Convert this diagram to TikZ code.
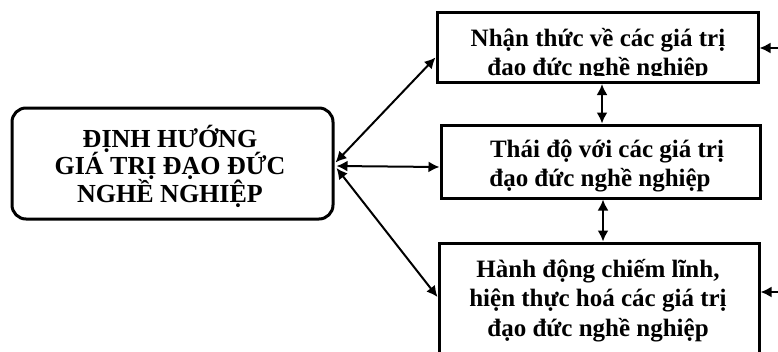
\documentclass[tikz,border=0pt]{standalone}
\usepackage{fontspec}
\setmainfont{Liberation Serif}
\usetikzlibrary{arrows.meta,calc}
\newcommand\tlines[1]{\vtop{\lineskiplimit=-100pt\halign{\hfil##\hfil\cr#1\crcr}}}
\begin{document}
\begin{tikzpicture}[x=1pt,y=-1pt,
  boxs/.style={draw,line width=3pt,inner sep=0pt,rectangle},
  lbl/.style={anchor=base,inner sep=0pt,font=\bfseries\fontsize{25}{29.5}\selectfont},
  lblL/.style={anchor=base,inner sep=0pt,font=\bfseries\fontsize{26}{27.5}\selectfont},
  conn/.style={line width=2pt,{Latex[length=11pt,width=11pt]}-{Latex[length=11pt,width=11pt]}},
  oneway/.style={line width=2pt,-{Latex[length=11pt,width=11pt]}}]
\useasboundingbox (0,0) rectangle (778,351);
\clip (0,0) rectangle (778,351);
\node[boxs,rounded corners=14pt,minimum width=321pt,minimum height=111pt] (L) at (172.5,163.5) {};
\node[boxs,minimum width=321pt,minimum height=70pt] (A) at (597.5,47.5) {};
\node[boxs,minimum width=319pt,minimum height=73pt] (B) at (600.5,161.5) {};
\node[boxs,minimum width=320pt,minimum height=120pt] (C) at (599,303) {};
\node[lblL] (Lt) at (170,147) {\tlines{ĐỊNH HƯỚNG\cr GIÁ TRỊ ĐẠO ĐỨC\cr NGHỀ NGHIỆP}};
\begin{scope}
\clip (437,12) rectangle (758,75.5);
\node[lbl] (At) at (598,46) {\tlines{Nhận thức về các giá trị\cr đạo đức nghề nghiệp}};
\end{scope}
\node[lbl] (Bt) at (600,157) {\tlines{\hspace*{14pt}Thái độ với các giá trị\cr đạo đức nghề nghiệp}};
\node[lbl] (Ct) at (598,277) {\tlines{Hành động chiếm lĩnh,\cr hiện thực hoá các giá trị\cr đạo đức nghề nghiệp}};
\draw[conn] ($(L.east)+(1,-1)$) -- ($(A.west)+(0,10)$);
\draw[conn] ($(L.east)+(2,2.5)$) -- ($(B.west)+(0,5.5)$);
\draw[conn] ($(L.east)+(2,4.5)$) -- ($(C.west)+(0,-6)$);
\draw[conn] ($(A.south)+(4.5,0)$) -- ($(B.north)+(1.5,0)$);
\draw[conn] ($(B.south)+(2.5,0)$) -- ($(C.north)+(4,0)$);
\coordinate (ra) at (780,48);
\coordinate (rc) at (780,292);
\draw[oneway] (ra) -- ($(A.east)+(0,0.5)$);
\draw[oneway] (rc) -- ($(C.east)+(0,-11)$);
\end{tikzpicture}
\end{document}
